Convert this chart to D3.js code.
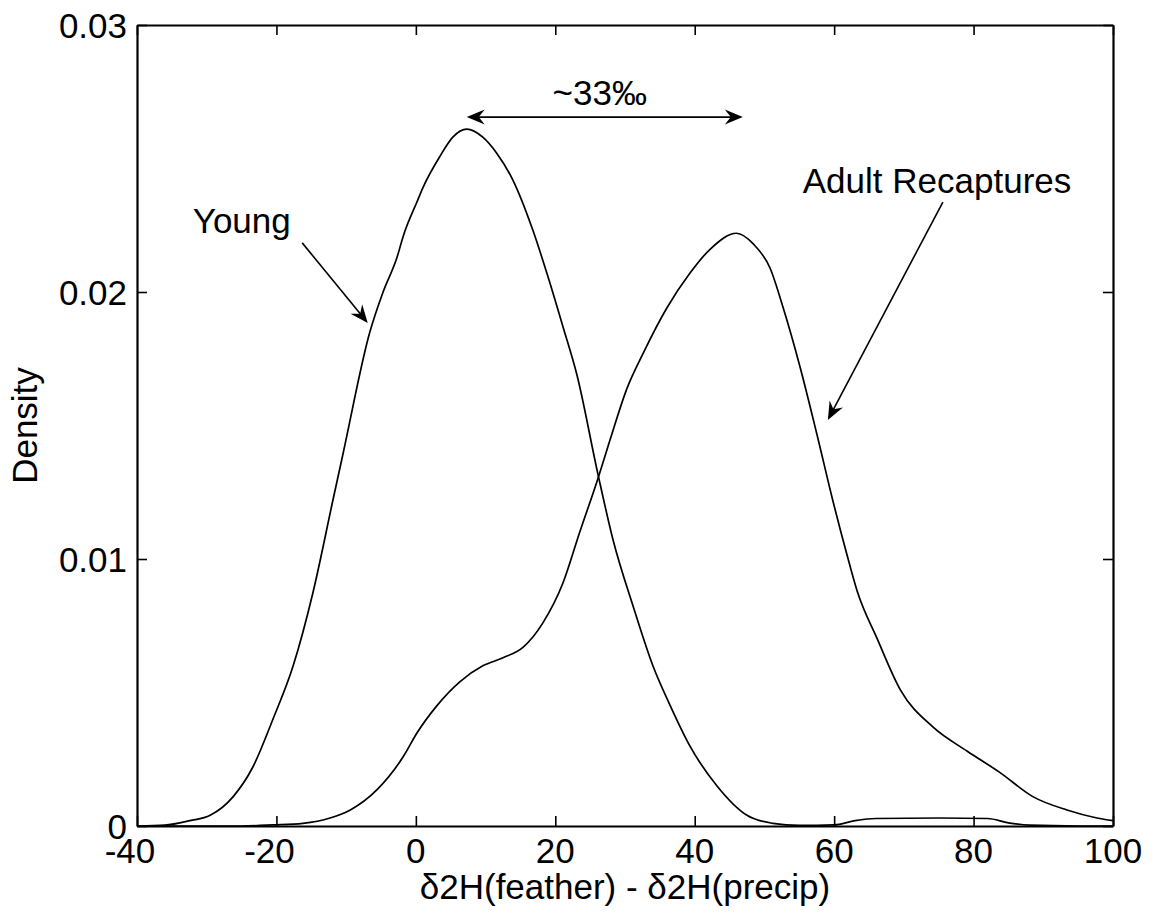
<!DOCTYPE html>
<html>
<head>
<meta charset="utf-8">
<script src="https://cdn.jsdelivr.net/npm/d3@7"></script>
<style>
  html, body { margin: 0; padding: 0; background: #fff; }
  svg text { font-family: "Liberation Sans", Arial, Helvetica, sans-serif; fill: #000; }
</style>
</head>
<body>
<svg id="chart" width="1157" height="920"></svg>
<script>
// Kernel density estimates of δ2H offset (feather minus precipitation)
const youngX = [-40, -36, -32.4, -29.5, -26.2, -23.4, -20.5, -17.6, -14.8, -11.9, -10.4, -6.6, -4.7, -2.7, -1.8, 0.2, 1.0, 3.5, 5.3, 7.3, 9.6, 11.6, 13.9, 16.8, 18.8, 21.1, 23.1, 26.1, 28.3, 31.2, 34.0, 36.5, 39.3, 43.2, 47.5, 51.2, 55, 60, 63, 66, 75, 82, 85, 88, 95, 100];
const youngY = [0, 0.00003, 0.0002, 0.0004, 0.0011, 0.0022, 0.0040, 0.0060, 0.0087, 0.0122, 0.0140, 0.0185, 0.0200, 0.0213, 0.0221, 0.0234, 0.0239, 0.0251, 0.0258, 0.0261, 0.0258, 0.0252, 0.0242, 0.0223, 0.0207, 0.0187, 0.0169, 0.0132, 0.0107, 0.0082, 0.0060, 0.0045, 0.0030, 0.0015, 0.0004, 0.0001, 0.00002, 0.00004, 0.0002, 0.00028, 0.0003, 0.00028, 0.00012, 0.00003, 0, 0];

const adultX = [-40, -25, -20.5, -16.2, -12.3, -9.4, -5.6, -1.8, 0.2, 3.0, 6.3, 9.6, 12.5, 15.4, 18.2, 21.1, 23.5, 26.1, 27.9, 30.3, 32.6, 36.0, 39.3, 42.2, 46.0, 48.4, 50.8, 52.7, 55.1, 57.5, 59.8, 61.9, 63.3, 66.2, 69.5, 74.2, 79.1, 83.8, 88.5, 93.4, 97.7, 100];
const adultY = [0, 0, 0.00004, 0.0001, 0.0003, 0.0006, 0.00135, 0.0026, 0.0035, 0.0045, 0.0054, 0.0060, 0.0063, 0.0067, 0.0076, 0.0091, 0.0110, 0.0130, 0.0145, 0.0164, 0.0177, 0.0194, 0.0207, 0.0216, 0.0222, 0.0218, 0.0209, 0.0194, 0.0172, 0.0147, 0.0122, 0.0101, 0.0088, 0.0070, 0.0051, 0.0037, 0.0028, 0.0020, 0.0011, 0.0006, 0.0003, 0.0002];

const xTicks = [-40, -20, 0, 20, 40, 60, 80, 100];
const yTicks = [0, 0.01, 0.02, 0.03];
const yTickLabels = ["0", "0.01", "0.02", "0.03"];

const xLabel = "δ2H(feather) - δ2H(precip)";
const yLabel = "Density";

// Annotation anchors in data units
const peakGap = { label: "~33‰", x0: 7.3, x1: 46.9, y: 0.02655 };
const youngNote = { label: "Young", tx: -32.0, ty: 0.0222, ax0: -16.3, ay0: 0.02184, ax1: -6.9, ay1: 0.01884 };
const adultNote = { label: "Adult Recaptures", tx: 55.5, ty: 0.02371, ax0: 75.6, ay0: 0.02337, ax1: 59.1, ay1: 0.01521 };

const svg = d3.select("#chart");
const margin = { left: 137, top: 25, right: 1157 - 1113, bottom: 920 - 826 };
const W = 1157, H = 920;
const x = d3.scaleLinear().domain([-40, 100]).range([margin.left, W - margin.right]);
const y = d3.scaleLinear().domain([0, 0.03]).range([H - margin.bottom, margin.top]);

const FS = 35;
const tickLen = 10;

// Curves
const line = d3.line().x(d => x(d[0])).y(d => y(d[1])).curve(d3.curveMonotoneX);
const series = [d3.zip(youngX, youngY), d3.zip(adultX, adultY)];
svg.append("g").selectAll("path").data(series).join("path")
  .attr("d", line)
  .attr("fill", "none")
  .attr("stroke", "#000")
  .attr("stroke-width", 1.7)
  .attr("stroke-linejoin", "round");

// Axes: ticks pointing inward on all four sides
const axB = d3.axisBottom(x).tickValues(xTicks).tickSize(-tickLen).tickSizeOuter(0).tickFormat("");
const axT = d3.axisTop(x).tickValues(xTicks).tickSize(-tickLen).tickSizeOuter(0).tickFormat("");
const axL = d3.axisLeft(y).tickValues(yTicks).tickSize(-tickLen).tickSizeOuter(0).tickFormat("");
const axR = d3.axisRight(y).tickValues(yTicks).tickSize(-tickLen).tickSizeOuter(0).tickFormat("");

function styleAxis(g) {
  g.selectAll(".domain").attr("stroke", "#000").attr("stroke-width", 2.2);
  g.selectAll(".tick line").attr("stroke", "#000").attr("stroke-width", 1.6);
}
svg.append("g").attr("transform", `translate(0,${y(0)})`).call(axB).call(styleAxis);
svg.append("g").attr("transform", `translate(0,${y(0.03)})`).call(axT).call(styleAxis);
svg.append("g").attr("transform", `translate(${x(-40)},0)`).call(axL).call(styleAxis);
svg.append("g").attr("transform", `translate(${x(100)},0)`).call(axR).call(styleAxis);

// Tick labels
svg.append("g").selectAll("text").data(xTicks).join("text")
  .attr("x", d => x(d) + (d < 0 ? -7 : 0))
  .attr("y", y(0) + 37)
  .attr("text-anchor", "middle")
  .attr("font-size", FS)
  .text(d => String(d));

svg.append("g").selectAll("text").data(yTicks).join("text")
  .attr("x", x(-40) - 10)
  .attr("y", d => y(d) + 12.5)
  .attr("text-anchor", "end")
  .attr("font-size", FS)
  .text((d, i) => yTickLabels[i]);

// Axis titles
svg.append("text")
  .attr("x", (x(-40) + x(100)) / 2)
  .attr("y", 899)
  .attr("text-anchor", "middle")
  .attr("font-size", FS)
  .text(xLabel);

svg.append("text")
  .attr("transform", `translate(37,${(y(0) + y(0.03)) / 2}) rotate(-90)`)
  .attr("text-anchor", "middle")
  .attr("font-size", FS)
  .text(yLabel);

// Arrowhead drawn as a notched filled shape pointing from (x0,y0) to tip (x1,y1)
function arrowHead(g, x0, y0, x1, y1, len = 18, half = 7.5, notch = 12) {
  const a = Math.atan2(y1 - y0, x1 - x0);
  const ux = Math.cos(a), uy = Math.sin(a);
  const px = -uy, py = ux;
  const bx = x1 - ux * len, by = y1 - uy * len;
  const nx = x1 - ux * notch, ny = y1 - uy * notch;
  g.append("path")
    .attr("d", `M${x1},${y1}L${bx + px * half},${by + py * half}L${nx},${ny}L${bx - px * half},${by - py * half}Z`)
    .attr("fill", "#000");
}

const ann = svg.append("g");

// Peak separation double arrow
{
  const x0 = x(peakGap.x0), x1 = x(peakGap.x1), yy = y(peakGap.y);
  ann.append("line").attr("x1", x0 + 4).attr("x2", x1 - 4).attr("y1", yy).attr("y2", yy)
    .attr("stroke", "#000").attr("stroke-width", 1.8);
  arrowHead(ann, x1 - 20, yy, x0, yy);
  arrowHead(ann, x0 + 20, yy, x1, yy);
  ann.append("text")
    .attr("x", (x0 + x1) / 2 - 5)
    .attr("y", yy - 12)
    .attr("text-anchor", "middle")
    .attr("font-size", FS)
    .text(peakGap.label);
}

// Labelled arrows for each series
[youngNote, adultNote].forEach(n => {
  ann.append("text")
    .attr("x", x(n.tx))
    .attr("y", y(n.ty))
    .attr("font-size", FS)
    .text(n.label);
  const X0 = x(n.ax0), Y0 = y(n.ay0), X1 = x(n.ax1), Y1 = y(n.ay1);
  const a = Math.atan2(Y1 - Y0, X1 - X0);
  ann.append("line")
    .attr("x1", X0).attr("y1", Y0)
    .attr("x2", X1 - Math.cos(a) * 6).attr("y2", Y1 - Math.sin(a) * 6)
    .attr("stroke", "#000").attr("stroke-width", 1.6);
  arrowHead(ann, X0, Y0, X1, Y1);
});
</script>
</body>
</html>
